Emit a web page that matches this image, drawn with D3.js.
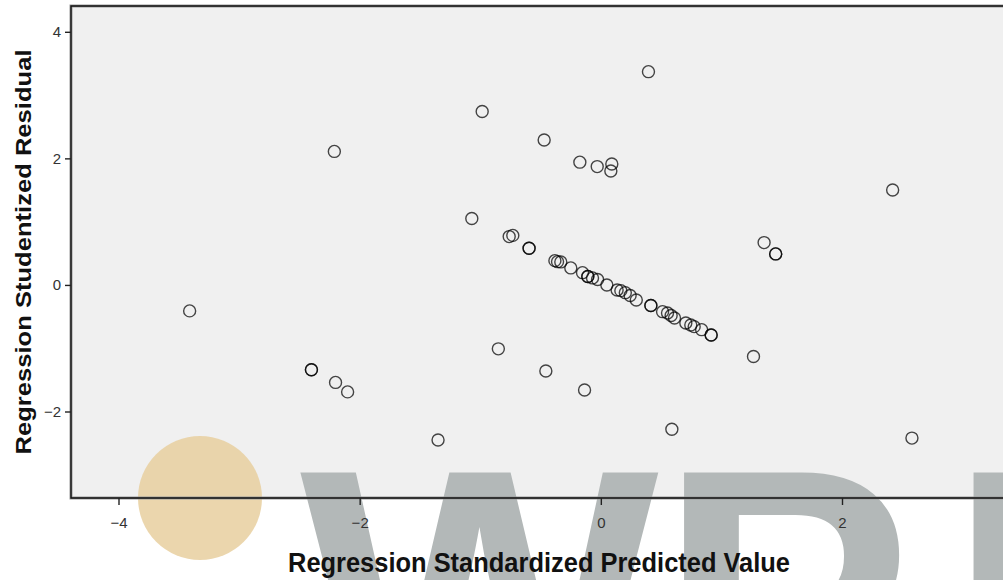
<!DOCTYPE html>
<html><head><meta charset="utf-8">
<script src="https://cdn.jsdelivr.net/npm/d3@7/dist/d3.min.js"></script>
<style>
html,body{margin:0;padding:0;background:#fff;}
svg{display:block;}
</style></head>
<body>
<svg id="chart" width="1003" height="580"></svg>
<script>
// Regression standardized predicted value (x) and studentized residual (y)
const predicted = [
  -3.41, -2.21, -2.40, -2.40, -2.20, -2.10, -1.35, -0.85, -0.456, -0.135, 0.589,
  0.395, -0.984, -0.47, -0.174, -0.03, 0.091, 0.083, -1.07,
  2.42, 1.354, 1.45, 1.45, 1.266, 2.58,
  -0.760, -0.730, -0.595, -0.595, -0.381, -0.359, -0.332, -0.249, -0.152, -0.108, -0.069,
  -0.027, 0.050, 0.135, 0.166, 0.203, 0.243, 0.294, 0.415, 0.512, 0.553, 0.583,
  0.611, 0.705, 0.746, 0.774, 0.836, 0.915, -0.108, 0.415, 0.915
];
const residual = [
  -0.41, 2.11, -1.34, -1.34, -1.54, -1.69, -2.45, -1.01, -1.36, -1.66, -2.28,
  3.37, 2.74, 2.29, 1.94, 1.87, 1.91, 1.80, 1.05,
  1.50, 0.669, 0.49, 0.49, -1.13, -2.42,
  0.764, 0.783, 0.580, 0.580, 0.384, 0.368, 0.364, 0.269, 0.194, 0.134, 0.111,
  0.087, 0.0, -0.079, -0.090, -0.122, -0.166, -0.237, -0.324, -0.422, -0.443, -0.482,
  -0.522, -0.601, -0.632, -0.659, -0.707, -0.791, 0.134, -0.324, -0.791
];
const xTicks = [-4, -2, 0, 2];
const yTicks = [-2, 0, 2, 4];
const xTitle = "Regression Standardized Predicted Value";
const yTitle = "Regression Studentized Residual";

const svg = d3.select("#chart");
const L = 71, T = 6, B = 498, R = 1012;

const x = d3.scaleLinear().domain([-4, 2]).range([118.5, 842]);
const y = d3.scaleLinear().domain([-2, 4]).range([411.5, 31.8]);

// plot background
svg.append("rect").attr("x", L).attr("y", T).attr("width", R - L).attr("height", B - T)
  .attr("fill", "#f0f0f0");

// watermark
svg.append("circle").attr("cx", 200).attr("cy", 498).attr("r", 62)
  .attr("fill", "#e8cf9f").attr("opacity", 0.85);
const wm = svg.append("text").attr("x", 300).attr("y", 734)
  .attr("font-family", "Liberation Sans, Arial, sans-serif").attr("font-weight", "bold")
  .attr("font-size", 380).attr("fill", "#b3b8b8");
wm.append("tspan").text("WP");
wm.append("tspan").attr("dx", 36).text("I");

// frame with subtle shadow
const frame = svg.append("g");
frame.append("path")
  .attr("d", `M${R},${T}H${L}V${B}H${R}`)
  .attr("fill", "none").attr("stroke", "#999").attr("stroke-width", 3);
frame.append("path")
  .attr("d", `M${R},${T}H${L}V${B}H${R}`)
  .attr("fill", "none").attr("stroke", "#111").attr("stroke-width", 1.4);

// axes
const yAxis = svg.append("g").attr("transform", `translate(${L},0)`)
  .call(d3.axisLeft(y).tickValues(yTicks).tickSize(6).tickPadding(4).tickFormat(d3.format("d")));
const xAxis = svg.append("g").attr("transform", `translate(0,${B})`)
  .call(d3.axisBottom(x).tickValues(xTicks).tickSize(7).tickPadding(12).tickFormat(d3.format("d")));
[yAxis, xAxis].forEach(g => {
  g.select(".domain").remove();
  g.selectAll(".tick line").attr("stroke", "#222").attr("stroke-width", 1.4);
  g.selectAll(".tick text").attr("fill", "#333")
    .attr("font-family", "Liberation Sans, Arial, sans-serif").attr("font-size", 15);
});

// points
svg.append("g").selectAll("circle")
  .data(predicted.map((p, i) => [p, residual[i]]))
  .join("circle")
  .attr("cx", d => x(d[0])).attr("cy", d => y(d[1])).attr("r", 6)
  .attr("fill", "none").attr("stroke", "#000").attr("stroke-opacity", 0.72)
  .attr("stroke-width", 1.4);

// titles
svg.append("text").attr("x", 539).attr("y", 572).attr("text-anchor", "middle")
  .attr("font-family", "Liberation Sans, Arial, sans-serif").attr("font-weight", "bold")
  .attr("font-size", 27).attr("textLength", 502).attr("lengthAdjust", "spacingAndGlyphs")
  .attr("fill", "#111").text(xTitle);
svg.append("text").attr("transform", "translate(31,252) rotate(-90)").attr("text-anchor", "middle")
  .attr("font-family", "Liberation Sans, Arial, sans-serif").attr("font-weight", "bold")
  .attr("font-size", 22).attr("textLength", 405).attr("lengthAdjust", "spacingAndGlyphs")
  .attr("fill", "#111").text(yTitle);
</script>
</body></html>
